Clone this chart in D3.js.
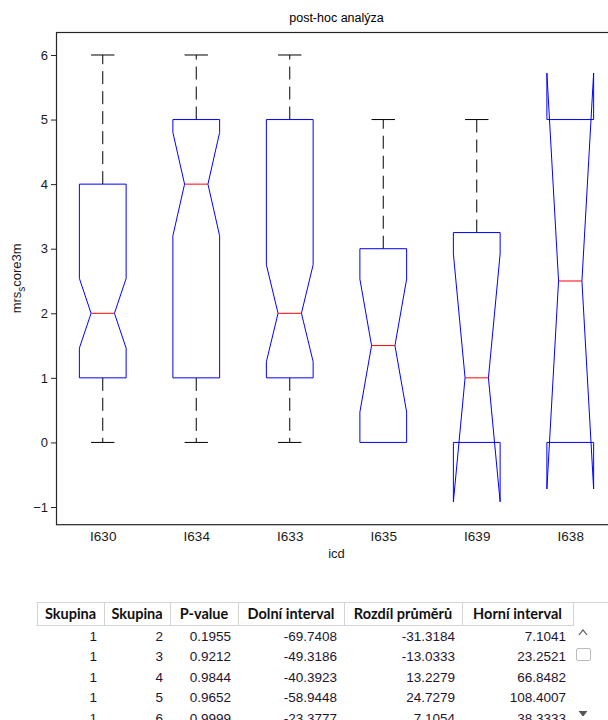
<!DOCTYPE html>
<html>
<head>
<meta charset="utf-8">
<script src="https://cdn.jsdelivr.net/npm/d3@7"></script>
<style>
html,body{margin:0;padding:0;background:#fff;}
svg{display:block;}
</style>
</head>
<body>
<script>
// ---------- data ----------
const categories = ["I630","I634","I633","I635","I639","I638"];
const q1        = [1, 1, 1, 0, 0, 0];
const medians   = [2, 4, 2, 1.5, 1, 2.5];
const q3        = [4, 5, 5, 3, 3.25, 5];
const whiskerLo = [0, 0, 0, 0, 0, 0];
const whiskerHi = [6, 6, 6, 5, 5, 5];
const notchLo   = [1.46, 3.2, 1.25, 0.47, -0.92, -0.72];
const notchHi   = [2.54, 4.8, 2.75, 2.53, 2.92, 5.72];
const yTicks    = [-1, 0, 1, 2, 3, 4, 5, 6];

const tableHeaders = ["Skupina","Skupina","P-value","Dolní interval","Rozdíl průměrů","Horní interval"];
const colGroupA  = ["1","1","1","1","1"];
const colGroupB  = ["2","3","4","5","6"];
const colPValue  = ["0.1955","0.9212","0.9844","0.9652","0.9999"];
const colLower   = ["-69.7408","-49.3186","-40.3923","-58.9448","-23.3777"];
const colDiff    = ["-31.3184","-13.0333","13.2279","24.7279","7.1054"];
const colUpper   = ["7.1041","23.2521","66.8482","108.4007","38.3333"];

// ---------- layout ----------
const W = 608, H = 720;
const svg = d3.select("body").append("svg").attr("width", W).attr("height", H);

const axL = 56, axR = 617, axT = 32, axB = 524.7;
const x = d3.scaleLinear().domain([0.5, 6.5]).range([axL, axR]);
const y = d3.scaleLinear().domain([-1.274, 6.356]).range([axB, axT]);

const fontAx = "'Liberation Sans', Arial, sans-serif";

svg.append("defs").append("clipPath").attr("id","clip")
  .append("rect").attr("x", axL).attr("y", axT).attr("width", axR-axL).attr("height", axB-axT);

// title
svg.append("text").attr("x", (axL+axR)/2).attr("y", 22)
  .attr("text-anchor","middle").attr("font-family", fontAx).attr("font-size", 12.5)
  .attr("fill","#000").text("post-hoc analýza");

// y axis
const yAxis = d3.axisLeft(y).tickValues(yTicks).tickSize(5).tickPadding(3).tickFormat(d3.format("d"));
const gy = svg.append("g").attr("transform", `translate(${axL},0)`).call(yAxis);
gy.select(".domain").remove();
gy.selectAll(".tick line").attr("stroke","#262626");
gy.selectAll(".tick text").attr("font-family", fontAx).attr("font-size", 13).attr("fill","#1a1a1a");

// x axis labels (no tick marks)
const xAxis = d3.axisBottom(x).tickValues(d3.range(1, categories.length+1))
  .tickSize(0).tickPadding(7).tickFormat(d => categories[d-1]);
const gx = svg.append("g").attr("transform", `translate(0,${axB})`).call(xAxis);
gx.select(".domain").remove();
gx.selectAll(".tick text").attr("font-family", fontAx).attr("font-size", 13.5).attr("fill","#1a1a1a");

// axes box
svg.append("rect").attr("x", axL+0.5).attr("y", axT+0.5).attr("width", axR-axL).attr("height", axB-axT-0.5)
  .attr("fill","none").attr("stroke","#262626").attr("stroke-width",1.2);

// axis labels
svg.append("text").attr("x", (axL+axR)/2).attr("y", 558)
  .attr("text-anchor","middle").attr("font-family", fontAx).attr("font-size", 13).attr("fill","#1a1a1a").text("icd");

const yl = svg.append("text").attr("transform", `translate(21,${(axT+axB)/2}) rotate(-90)`)
  .attr("text-anchor","middle").attr("font-family", fontAx).attr("font-size", 13).attr("fill","#1a1a1a");
yl.append("tspan").text("mrs");
yl.append("tspan").attr("font-size", 10).attr("dy", 4).text("s");
yl.append("tspan").attr("dy", -4).text("core3m");

// ---------- boxes ----------
const plot = svg.append("g").attr("clip-path","url(#clip)");
const bw = (x(1.25) - x(1)); // half box width
const idx = d3.range(categories.length);

// whiskers
idx.forEach(i => {
  const cx = x(i+1);
  const segs = [];
  if (whiskerHi[i] > q3[i]) segs.push([q3[i], whiskerHi[i]]);
  if (whiskerLo[i] < q1[i]) segs.push([q1[i], whiskerLo[i]]);
  segs.forEach(([a,b]) => {
    plot.append("line").attr("x1", cx).attr("x2", cx).attr("y1", y(a)).attr("y2", y(b))
      .attr("stroke","#000").attr("stroke-width",1).attr("stroke-dasharray","13,7");
    plot.append("line").attr("x1", cx - bw/2).attr("x2", cx + bw/2).attr("y1", y(b)).attr("y2", y(b))
      .attr("stroke","#000").attr("stroke-width",1);
  });
});

// notched boxes
idx.forEach(i => {
  const cx = x(i+1);
  const pts = [
    [cx-bw, y(q1[i])], [cx-bw, y(notchLo[i])], [cx-bw/2, y(medians[i])], [cx-bw, y(notchHi[i])],
    [cx-bw, y(q3[i])], [cx+bw, y(q3[i])], [cx+bw, y(notchHi[i])], [cx+bw/2, y(medians[i])],
    [cx+bw, y(notchLo[i])], [cx+bw, y(q1[i])]
  ];
  plot.append("path").attr("d", d3.line()(pts) + "Z")
    .attr("fill","none").attr("stroke","#0000ff").attr("stroke-width",1);
  plot.append("line").attr("x1", cx-bw/2).attr("x2", cx+bw/2)
    .attr("y1", y(medians[i])).attr("y2", y(medians[i]))
    .attr("stroke","#ff0000").attr("stroke-width",1);
});

// ---------- table ----------
const colEdges = [37, 104, 170, 238, 344, 462, 573];
const hTop = 602, hBot = 625, rowY0 = 640.5, rowH = 20.6;
const tbl = svg.append("g");
tbl.append("line").attr("x1", 36.5).attr("x2", W).attr("y1", hTop+0.5).attr("y2", hTop+0.5).attr("stroke","#d4d4d4");
tbl.append("line").attr("x1", 36.5).attr("x2", colEdges[6]+0.5).attr("y1", hBot+0.5).attr("y2", hBot+0.5).attr("stroke","#d4d4d4");
colEdges.forEach(e => tbl.append("line").attr("x1", e+0.5).attr("x2", e+0.5).attr("y1", hTop).attr("y2", hBot+1).attr("stroke","#d4d4d4"));
tableHeaders.forEach((h,j) => {
  tbl.append("text").attr("x", (colEdges[j]+colEdges[j+1])/2).attr("y", 619)
    .attr("text-anchor","middle").attr("font-family","Lato, 'Open Sans', sans-serif")
    .attr("font-weight","bold").attr("font-size", 14.5).attr("fill","#111").text(h);
});
const cols = [colGroupA, colGroupB, colPValue, colLower, colDiff, colUpper];
cols.forEach((col, j) => {
  col.forEach((v, r) => {
    tbl.append("text").attr("x", colEdges[j+1]-7).attr("y", rowY0 + r*rowH)
      .attr("text-anchor","end").attr("font-family", fontAx).attr("font-size", 13.5)
      .attr("fill","#1e1430").text(v);
  });
});
// scroll controls
tbl.append("path").attr("d","M579,635 L583,630 L587,635").attr("fill","none").attr("stroke","#555").attr("stroke-width",1.2);
tbl.append("rect").attr("x",576.5).attr("y",648.5).attr("width",14).attr("height",12).attr("rx",1.5)
  .attr("fill","#fff").attr("stroke","#bbb");
tbl.append("path").attr("d","M579,711 L583,716 L587,711").attr("fill","#555").attr("stroke","#555").attr("stroke-width",1);
</script>
</body>
</html>
